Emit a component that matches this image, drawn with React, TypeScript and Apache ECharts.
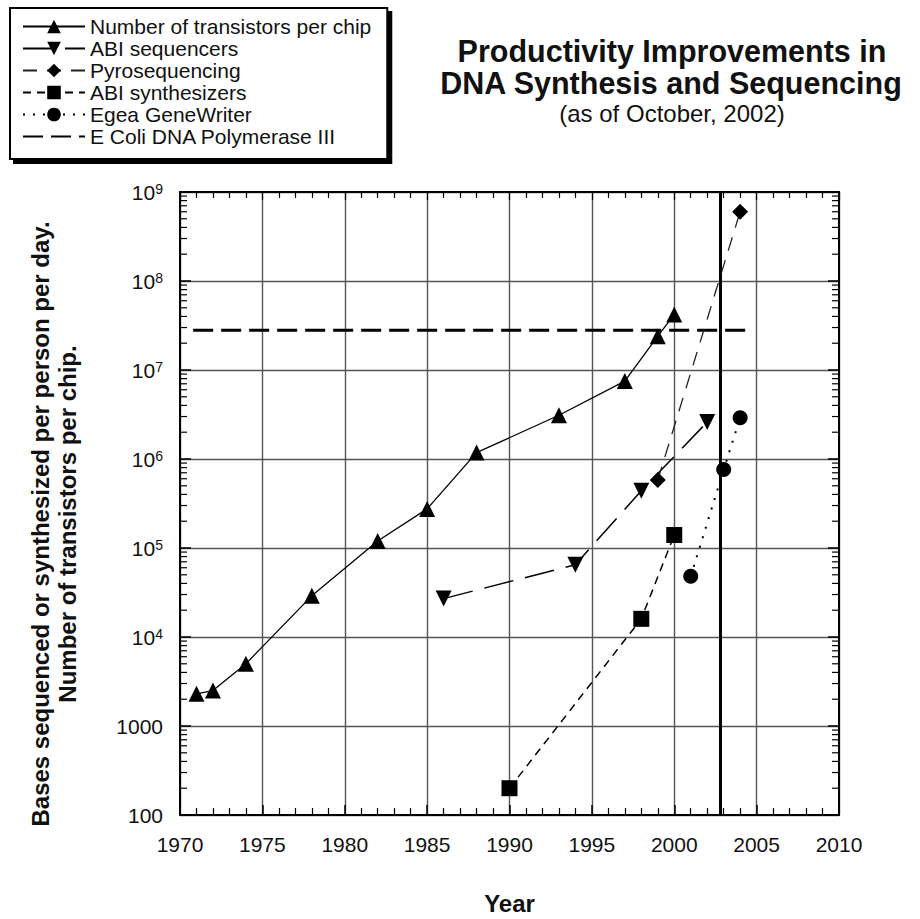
import React, { useEffect, useRef } from "react";
import * as echarts from "echarts";

const FONT = '"Liberation Sans", Arial, Helvetica, sans-serif';

// Axis ranges
const xMin = 1970;
const xMax = 2010;
const xStep = 5;
const yMin = 100;
const yMax = 1e9;
const yDecades = [100, 1000, 1e4, 1e5, 1e6, 1e7, 1e8];
const minorMultipliers = [2, 3, 4, 5, 6, 7, 8, 9];

// Series names
const seriesNames = [
  "Number of transistors per chip",
  "ABI sequencers",
  "Pyrosequencing",
  "ABI synthesizers",
  "Egea GeneWriter",
  "E Coli DNA Polymerase III",
];

// Data
const transistorYears = [1971, 1972, 1974, 1978, 1982, 1985, 1988, 1993, 1997, 1999, 2000];
const transistorCounts = [2300, 2500, 5000, 29000, 120000, 275000, 1180000, 3100000, 7500000, 24000000, 42000000];

const abiSeqYears = [1986, 1994, 1998, 2002];
const abiSeqValues = [27000, 65000, 440000, 2600000];

const pyroYears = [1999, 2004];
const pyroValues = [580000, 600000000];

const abiSynthYears = [1990, 1998, 2000];
const abiSynthValues = [200, 16000, 140000];

const egeaYears = [2001, 2003, 2004];
const egeaValues = [48000, 760000, 2900000];

const eColiYears = [1970.8, 2004.6];
const eColiValues = [28000000, 28000000];

const asOfYear = 2002.8;

const pairs = (xs: number[], ys: number[]) => xs.map((x, i) => [x, ys[i]]);

export default function App() {
  const ref = useRef<HTMLDivElement>(null);

  useEffect(() => {
    if (!ref.current) return;
    const chart = echarts.init(ref.current, undefined, { renderer: "svg" });

    const minorTickValues = yDecades.flatMap((d) => minorMultipliers.map((m) => d * m));

    const labelStyle = { fontFamily: FONT, fontSize: 21, color: "#111" };

    const legendData = seriesNames.map((n, i) =>
      i === seriesNames.length - 1 ? { name: n, itemStyle: { opacity: 0 } } : { name: n }
    );

    const option: any = {
      animation: false,
      backgroundColor: "#fff",
      grid: {
        left: 180,
        right: 81,
        top: 192,
        bottom: 104,
        containLabel: false,
        outerBoundsMode: "none",
      },
      legend: {
        data: legendData,
        orient: "vertical",
        left: 10,
        top: 8,
        itemWidth: 62,
        itemHeight: 17,
        itemGap: 1,
        padding: [8, 16, 12, 12],
        backgroundColor: "#fff",
        borderColor: "#000",
        borderWidth: 2,
        shadowColor: "#000",
        shadowOffsetX: 4,
        shadowOffsetY: 4,
        shadowBlur: 0,
        selectedMode: false,
        textStyle: { fontFamily: FONT, fontSize: 21, color: "#111" },
      },
      graphic: [
        {
          type: "text",
          x: 672,
          y: 51,
          style: {
            text: "Productivity Improvements in",
            font: `bold 30.5px ${FONT}`,
            fill: "#111",
            textAlign: "center",
            textVerticalAlign: "middle",
          },
        },
        {
          type: "text",
          x: 671,
          y: 83,
          style: {
            text: "DNA Synthesis and Sequencing",
            font: `bold 30.5px ${FONT}`,
            fill: "#111",
            textAlign: "center",
            textVerticalAlign: "middle",
          },
        },
        {
          type: "text",
          x: 672,
          y: 113,
          style: {
            text: "(as of October, 2002)",
            font: `24px ${FONT}`,
            fill: "#111",
            textAlign: "center",
            textVerticalAlign: "middle",
          },
        },
        {
          type: "text",
          x: 54,
          y: 524,
          rotation: Math.PI / 2,
          style: {
            text: "Bases sequenced or synthesized per person per day.\nNumber of transistors per chip.",
            font: `bold 24px ${FONT}`,
            lineHeight: 27,
            fill: "#111",
            textAlign: "center",
            textVerticalAlign: "middle",
          },
        },
      ],
      xAxis: [
        {
          type: "value",
          min: xMin,
          max: xMax,
          interval: xStep,
          position: "bottom",
          name: "Year",
          nameLocation: "middle",
          nameGap: 76,
          nameTextStyle: { fontFamily: FONT, fontSize: 24, fontWeight: "bold", color: "#111" },
          axisLine: { show: true, onZero: false, lineStyle: { color: "#000", width: 2 } },
          axisTick: { show: true, inside: true, length: 10, lineStyle: { color: "#000", width: 1.5 } },
          minorTick: { show: true, splitNumber: 5, length: 7, lineStyle: { color: "#000", width: 1.2 } },
          axisLabel: { ...labelStyle, margin: 19, formatter: (v: number) => String(v) },
          splitLine: { show: true, lineStyle: { color: "#555", width: 1.4 } },
        },
        {
          type: "value",
          min: xMin,
          max: xMax,
          interval: xStep,
          position: "top",
          axisLine: { show: true, onZero: false, lineStyle: { color: "#000", width: 2 } },
          axisTick: { show: true, inside: true, length: 8, lineStyle: { color: "#000", width: 1.2 } },
          minorTick: { show: true, splitNumber: 5, length: 6, lineStyle: { color: "#000", width: 1.2 } },
          axisLabel: { show: false },
          splitLine: { show: false },
        },
      ],
      yAxis: [
        {
          type: "log",
          logBase: 10,
          min: yMin,
          max: yMax,
          interval: 1,
          splitNumber: 7,
          position: "left",
          axisLine: { show: true, onZero: false, lineStyle: { color: "#000", width: 2 } },
          axisTick: { show: true, inside: true, length: 11, lineStyle: { color: "#000", width: 1.5 } },
          axisLabel: {
            ...labelStyle,
            margin: 17,
            formatter: (v: number) => {
              const e = Math.round(Math.log10(v));
              if (e <= 3) return String(Math.round(v));
              return `{b|10}{s|${e}}`;
            },
            rich: {
              b: { fontFamily: FONT, fontSize: 21, color: "#111" },
              s: { fontFamily: FONT, fontSize: 14, color: "#111", verticalAlign: "top", lineHeight: 12 },
            },
          },
          splitLine: { show: true, lineStyle: { color: "#555", width: 1.4 } },
        },
        {
          type: "log",
          logBase: 10,
          min: yMin,
          max: yMax,
          interval: 1,
          splitNumber: 7,
          position: "right",
          axisLine: { show: true, onZero: false, lineStyle: { color: "#000", width: 2 } },
          axisTick: { show: true, inside: true, length: 11, lineStyle: { color: "#000", width: 1.5 } },
          axisLabel: { show: false },
          splitLine: { show: false },
        },
      ],
      series: [
        {
          name: seriesNames[0],
          type: "line",
          data: pairs(transistorYears, transistorCounts),
          symbol: "triangle",
          symbolSize: 16,
          itemStyle: { color: "#000" },
          lineStyle: { color: "#000", width: 1.3, type: "solid" },
          z: 5,
          markLine: {
            silent: true,
            symbol: "none",
            label: { show: false },
            lineStyle: { color: "#000", width: 3, type: "solid" },
            data: [{ xAxis: asOfYear }],
          },
        },
        {
          name: seriesNames[1],
          type: "line",
          data: pairs(abiSeqYears, abiSeqValues),
          symbol: "triangle",
          symbolRotate: 180,
          symbolSize: 16,
          itemStyle: { color: "#000" },
          lineStyle: { color: "#000", width: 1.5, type: [30, 12] },
          z: 5,
        },
        {
          name: seriesNames[2],
          type: "line",
          data: pairs(pyroYears, pyroValues),
          symbol: "diamond",
          symbolSize: 16,
          itemStyle: { color: "#000" },
          lineStyle: { color: "#222", width: 1.3, type: [14, 10] },
          z: 5,
        },
        {
          name: seriesNames[3],
          type: "line",
          data: pairs(abiSynthYears, abiSynthValues),
          symbol: "rect",
          symbolSize: 16,
          itemStyle: { color: "#000" },
          lineStyle: { color: "#000", width: 1.5, type: [8, 6] },
          z: 5,
        },
        {
          name: seriesNames[4],
          type: "line",
          data: pairs(egeaYears, egeaValues),
          symbol: "circle",
          symbolSize: 15,
          itemStyle: { color: "#000" },
          lineStyle: { color: "#000", width: 2, type: [2, 8] },
          z: 5,
        },
        {
          name: seriesNames[5],
          type: "line",
          data: pairs(eColiYears, eColiValues),
          symbol: "none",
          itemStyle: { color: "#000" },
          lineStyle: { color: "#000", width: 3, type: [20, 8] },
          z: 4,
        },
        {
          type: "custom",
          silent: true,
          data: minorTickValues.map((v) => [xMin, v]),
          renderItem: (_params: any, api: any) => {
            const v = api.value(1);
            const l = api.coord([xMin, v]);
            const r = api.coord([xMax, v]);
            return {
              type: "group",
              children: [
                {
                  type: "line",
                  shape: { x1: l[0], y1: l[1], x2: l[0] + 7, y2: l[1] },
                  style: { stroke: "#000", lineWidth: 1.2 },
                },
                {
                  type: "line",
                  shape: { x1: r[0], y1: r[1], x2: r[0] - 7, y2: r[1] },
                  style: { stroke: "#000", lineWidth: 1.2 },
                },
              ],
            };
          },
          z: 3,
        },
      ],
    };

    chart.setOption(option);
    return () => chart.dispose();
  }, []);

  return (
    <div
      ref={ref}
      style={{ position: "absolute", left: 0, top: 0, width: 920, height: 919 }}
    />
  );
}
